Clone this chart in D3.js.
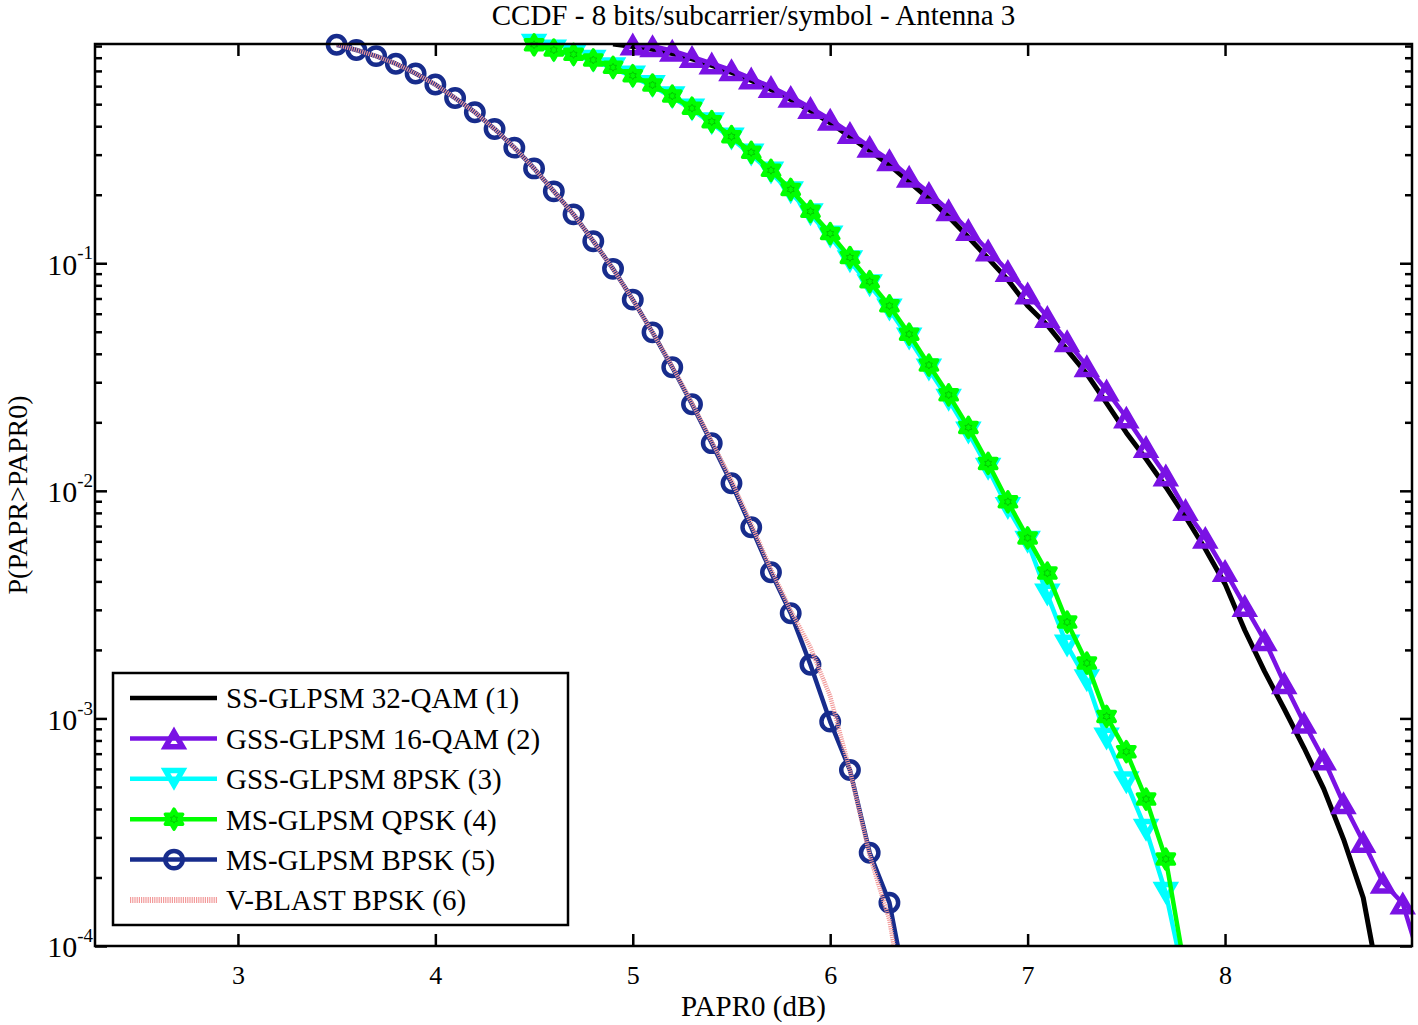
<!DOCTYPE html>
<html>
<head>
<meta charset="utf-8">
<script src="https://cdn.jsdelivr.net/npm/d3@7"></script>
<style>
  html, body { margin: 0; padding: 0; background: #fff; }
  svg { display: block; font-family: "Liberation Serif", "Times New Roman", serif; }
</style>
</head>
<body>
<svg id="chart" width="1418" height="1025"></svg>
<script>
// ---------------- DATA ----------------
const titleText = "CCDF - 8 bits/subcarrier/symbol - Antenna 3";
const xLabelText = "PAPR0 (dB)";
const yLabelText = "P(PAPR>PAPR0)";

const xTicks = [3, 4, 5, 6, 7, 8];
const yMajorTicks = [1e-4, 1e-3, 1e-2, 1e-1];
const yMajorExp = ["-4", "-3", "-2", "-1"];
const yMinorTicks = [2e-4,3e-4,4e-4,5e-4,6e-4,7e-4,8e-4,9e-4,
                     2e-3,3e-3,4e-3,5e-3,6e-3,7e-3,8e-3,9e-3,
                     2e-2,3e-2,4e-2,5e-2,6e-2,7e-2,8e-2,9e-2,
                     0.2,0.3,0.4,0.5,0.6,0.7,0.8,0.9];

const legendNames = ["SS-GLPSM 32-QAM (1)", "GSS-GLPSM 16-QAM (2)", "GSS-GLPSM 8PSK (3)",
                     "MS-GLPSM QPSK (4)", "MS-GLPSM BPSK (5)", "V-BLAST BPSK (6)"];

// (1) SS-GLPSM 32-QAM
const xQam32 = [4.9,5.0,5.1,5.2,5.3,5.4,5.5,5.6,5.7,5.8,5.9,6.0,6.1,6.2,6.3,6.4,6.5,6.6,6.7,6.8,
                6.9,7.0,7.1,7.2,7.3,7.4,7.5,7.6,7.7,7.8,7.9,8.0,8.1,8.2,8.3,8.4,8.5,8.6,8.7,8.8];
const yQam32 = [0.918,0.897,0.872,0.835,0.790,0.740,0.690,0.635,0.580,0.524,0.468,0.414,0.360,0.312,0.270,
                0.228,0.192,0.160,0.130,0.105,0.0845,0.0650,0.0534,0.0416,0.0326,0.0243,0.0180,0.0138,
                0.0104,0.00767,0.00555,0.00390,0.00244,0.00161,0.00110,0.000743,0.000490,0.000295,
                0.000163,0.000056];

// (2) GSS-GLPSM 16-QAM
const xQam16 = [5.0,5.1,5.2,5.3,5.4,5.5,5.6,5.7,5.8,5.9,6.0,6.1,6.2,6.3,6.4,6.5,6.6,6.7,6.8,6.9,
                7.0,7.1,7.2,7.3,7.4,7.5,7.6,7.7,7.8,7.9,8.0,8.1,8.2,8.3,8.4,8.5,8.6,8.7,8.8,8.9,9.0];
const yQam16 = [0.915,0.900,0.859,0.807,0.755,0.706,0.649,0.596,0.539,0.482,0.428,0.374,0.325,0.284,
                0.240,0.204,0.171,0.140,0.114,0.0925,0.0738,0.0581,0.0455,0.0353,0.0276,0.0210,0.0156,
                0.0117,0.00824,0.00622,0.00445,0.00312,0.00221,0.00143,0.000957,0.000661,0.000424,
                0.000287,0.000190,0.000154,0.000080];

// (3) GSS-GLPSM 8PSK
const x8psk = [4.5,4.6,4.7,4.8,4.9,5.0,5.1,5.2,5.3,5.4,5.5,5.6,5.7,5.8,5.9,6.0,6.1,6.2,6.3,6.4,
               6.5,6.6,6.7,6.8,6.9,7.0,7.1,7.2,7.3,7.4,7.5,7.6,7.7,7.8];
const y8psk = [0.910,0.860,0.822,0.775,0.719,0.660,0.600,0.536,0.473,0.412,0.353,0.300,0.250,0.205,
               0.164,0.131,0.102,0.0800,0.0625,0.0466,0.0341,0.0251,0.0180,0.0125,0.0084,0.00596,
               0.00350,0.00209,0.00147,0.000815,0.000523,0.000324,0.000171,0.000067];

// (4) MS-GLPSM QPSK
const xQpsk = [4.5,4.6,4.7,4.8,4.9,5.0,5.1,5.2,5.3,5.4,5.5,5.6,5.7,5.8,5.9,6.0,6.1,6.2,6.3,6.4,
               6.5,6.6,6.7,6.8,6.9,7.0,7.1,7.2,7.3,7.4,7.5,7.6,7.7,7.8];
const yQpsk = [0.912,0.865,0.828,0.782,0.726,0.667,0.607,0.543,0.480,0.419,0.360,0.307,0.256,0.211,
               0.169,0.135,0.106,0.0830,0.0650,0.0488,0.0357,0.0264,0.0190,0.0132,0.00895,0.00621,
               0.00435,0.00265,0.00175,0.00102,0.000714,0.000442,0.000241,0.000076];

// (5) MS-GLPSM BPSK
const xBpsk = [3.5,3.6,3.7,3.8,3.9,4.0,4.1,4.2,4.3,4.4,4.5,4.6,4.7,4.8,4.9,5.0,5.1,5.2,5.3,5.4,
               5.5,5.6,5.7,5.8,5.9,6.0,6.1,6.2,6.3,6.4];
const yBpsk = [0.912,0.865,0.813,0.753,0.682,0.610,0.532,0.461,0.389,0.322,0.261,0.207,0.164,0.125,
               0.0945,0.0692,0.0497,0.0349,0.0240,0.0162,0.0108,0.00692,0.00439,0.00290,0.00172,
               0.000968,0.000593,0.000257,0.000155,0.000055];

// (6) V-BLAST BPSK
const xVblast = [3.5,3.6,3.7,3.8,3.9,4.0,4.1,4.2,4.3,4.4,4.5,4.6,4.7,4.8,4.9,5.0,5.1,5.2,5.3,5.4,
                 5.5,5.6,5.7,5.8,5.9,6.0,6.1,6.2,6.3,6.4];
const yVblast = [0.912,0.865,0.813,0.753,0.682,0.610,0.532,0.461,0.389,0.322,0.261,0.207,0.164,0.125,
                 0.0945,0.0692,0.0497,0.0352,0.0243,0.0165,0.0111,0.00715,0.00452,0.00298,0.00205,
                 0.00125,0.00059,0.00025,0.00013,0.00004];

// ---------------- CHART ----------------
const svg = d3.select("#chart");
const L = 95, R = 1412, T = 44, B = 946;
const x = d3.scaleLinear().domain([2.276, 8.947]).range([L, R]);
const y = d3.scaleLog().domain([1e-4, 0.919]).range([B, T]);

svg.append("rect").attr("width", 1418).attr("height", 1025).attr("fill", "#fff");

svg.append("defs").append("clipPath").attr("id", "plotclip")
  .append("rect").attr("x", L).attr("y", T).attr("width", R - L).attr("height", B - T);

// marker shapes
function triUp(a) { const h = a * Math.sqrt(3) / 2; return `M0,${-h/2}L${a/2},${h/2}L${-a/2},${h/2}Z`; }
function triDown(a) { const h = a * Math.sqrt(3) / 2; return `M0,${h/2}L${a/2},${-h/2}L${-a/2},${-h/2}Z`; }
function hexagram(r) {
  const pts = [];
  for (let i = 0; i < 12; i++) {
    const ang = -Math.PI / 2 + i * Math.PI / 6;
    const rr = i % 2 === 0 ? r : r / Math.sqrt(3);
    pts.push([rr * Math.cos(ang), rr * Math.sin(ang)]);
  }
  return "M" + pts.map(p => p[0].toFixed(2) + "," + p[1].toFixed(2)).join("L") + "Z";
}

const series = [
  { xs: xQam32, ys: yQam32, color: "#000000", width: 5, marker: null },
  { xs: xQam16, ys: yQam16, color: "#7a12e4", width: 4.5, marker: "up" },
  { xs: x8psk, ys: y8psk, color: "#00ffff", width: 4.5, marker: "down" },
  { xs: xQpsk, ys: yQpsk, color: "#00ff00", width: 4.5, marker: "hex" },
  { xs: xBpsk, ys: yBpsk, color: "#172c8c", width: 4.5, marker: "circle" },
  { xs: xVblast, ys: yVblast, color: "#f29a9a", width: 4.5, marker: null, dash: "1.2 1" }
];

const line = d3.line().x(d => x(d[0])).y(d => y(d[1]));

function drawMarker(g, type, color) {
  if (type === "up") {
    g.append("path").attr("d", triUp(17)).attr("transform", "translate(0,1)")
      .attr("fill", "none").attr("stroke", color).attr("stroke-width", 5.5).attr("stroke-linejoin", "miter");
  } else if (type === "down") {
    g.append("path").attr("d", triDown(17)).attr("transform", "translate(0,-1)")
      .attr("fill", "none").attr("stroke", color).attr("stroke-width", 5.5).attr("stroke-linejoin", "miter");
  } else if (type === "hex") {
    g.append("path").attr("d", hexagram(10))
      .attr("fill", color).attr("stroke", color).attr("stroke-width", 3.5).attr("stroke-linejoin", "round");
    g.append("path").attr("d", hexagram(4))
      .attr("fill", "none").attr("stroke", "#00c800").attr("stroke-width", 1);
  } else if (type === "circle") {
    g.append("circle").attr("r", 8.7)
      .attr("fill", "none").attr("stroke", color).attr("stroke-width", 4.5);
  }
}

const plot = svg.append("g");
series.forEach(s => {
  const pts = s.xs.map((v, i) => [v, s.ys[i]]);
  const p = plot.append("path").datum(pts)
    .attr("d", line)
    .attr("clip-path", "url(#plotclip)")
    .attr("fill", "none")
    .attr("stroke", s.color)
    .attr("stroke-width", s.width)
    .attr("stroke-linejoin", "round");
  if (s.dash) p.attr("stroke-dasharray", s.dash);
  if (s.marker) {
    const inside = pts.filter(d => d[0] >= x.domain()[0] && d[0] <= x.domain()[1] && d[1] >= 1e-4);
    inside.forEach(d => {
      const g = plot.append("g").attr("transform", `translate(${x(d[0])},${y(d[1])})`);
      drawMarker(g, s.marker, s.color);
    });
  }
});

// ---------------- AXES ----------------
const axisColor = "#000";
function styleAxis(g) {
  g.select(".domain").remove();
  g.selectAll(".tick line").attr("stroke", axisColor).attr("stroke-width", 2.5);
}

const xAxisB = svg.append("g").attr("transform", `translate(0,${B})`)
  .call(d3.axisBottom(x).tickValues(xTicks).tickSize(-12).tickPadding(20).tickFormat(d3.format("d")));
styleAxis(xAxisB);
xAxisB.selectAll(".tick text").attr("font-size", 26).attr("fill", "#000")
  .attr("font-family", "Liberation Serif, Times New Roman, serif").attr("dy", "0.71em");

const xAxisT = svg.append("g").attr("transform", `translate(0,${T})`)
  .call(d3.axisTop(x).tickValues(xTicks).tickSize(-12).tickFormat(""));
styleAxis(xAxisT);

const yAxisL = svg.append("g").attr("transform", `translate(${L},0)`)
  .call(d3.axisLeft(y).tickValues(yMajorTicks).tickSize(-12).tickPadding(4).tickFormat(() => ""));
styleAxis(yAxisL);
yAxisL.selectAll(".tick text").each(function(d, i) {
  const t = d3.select(this);
  t.text(null)
    .attr("font-size", 30)
    .attr("fill", "#000")
    .attr("font-family", "Liberation Serif, Times New Roman, serif")
    .attr("text-anchor", "end")
    .attr("x", -2)
    .attr("dy", "0.36em");
  t.append("tspan").text("10");
  t.append("tspan").text(yMajorExp[i]).attr("font-size", 19).attr("dy", "-0.8em");
});

const yAxisLm = svg.append("g").attr("transform", `translate(${L},0)`)
  .call(d3.axisLeft(y).tickValues(yMinorTicks).tickSize(-7).tickFormat(""));
styleAxis(yAxisLm);

const yAxisR = svg.append("g").attr("transform", `translate(${R},0)`)
  .call(d3.axisRight(y).tickValues(yMajorTicks).tickSize(-12).tickFormat(""));
styleAxis(yAxisR);
const yAxisRm = svg.append("g").attr("transform", `translate(${R},0)`)
  .call(d3.axisRight(y).tickValues(yMinorTicks).tickSize(-7).tickFormat(""));
styleAxis(yAxisRm);

svg.append("rect").attr("x", L).attr("y", T).attr("width", R - L).attr("height", B - T)
  .attr("fill", "none").attr("stroke", axisColor).attr("stroke-width", 2.5);

// ---------------- TEXT ----------------
svg.append("text").attr("x", (L + R) / 2).attr("y", 25)
  .attr("text-anchor", "middle").attr("font-size", 29).attr("fill", "#000").text(titleText);

svg.append("text").attr("x", (L + R) / 2).attr("y", 1016)
  .attr("text-anchor", "middle").attr("font-size", 29).attr("fill", "#000").text(xLabelText);

svg.append("text").attr("transform", `translate(27,${(T + B) / 2}) rotate(-90)`)
  .attr("text-anchor", "middle").attr("font-size", 28).attr("fill", "#000").text(yLabelText);

// ---------------- LEGEND ----------------
const lg = svg.append("g");
lg.append("rect").attr("x", 113).attr("y", 673).attr("width", 455).attr("height", 252)
  .attr("fill", "#fff").attr("stroke", "#000").attr("stroke-width", 2.5);

series.forEach((s, i) => {
  const cy = 698 + i * 40.4;
  const ln = lg.append("line").attr("x1", 130).attr("x2", 217).attr("y1", cy).attr("y2", cy)
    .attr("stroke", s.color).attr("stroke-width", s.dash ? 6 : 4.5);
  if (s.dash) ln.attr("stroke-dasharray", s.dash);
  if (s.marker) {
    const g = lg.append("g").attr("transform", `translate(174,${cy})`);
    drawMarker(g, s.marker, s.color);
  }
  lg.append("text").attr("x", 226).attr("y", cy).attr("dy", "0.36em")
    .attr("font-size", 29).attr("fill", "#000").text(legendNames[i]);
});
</script>
</body>
</html>
